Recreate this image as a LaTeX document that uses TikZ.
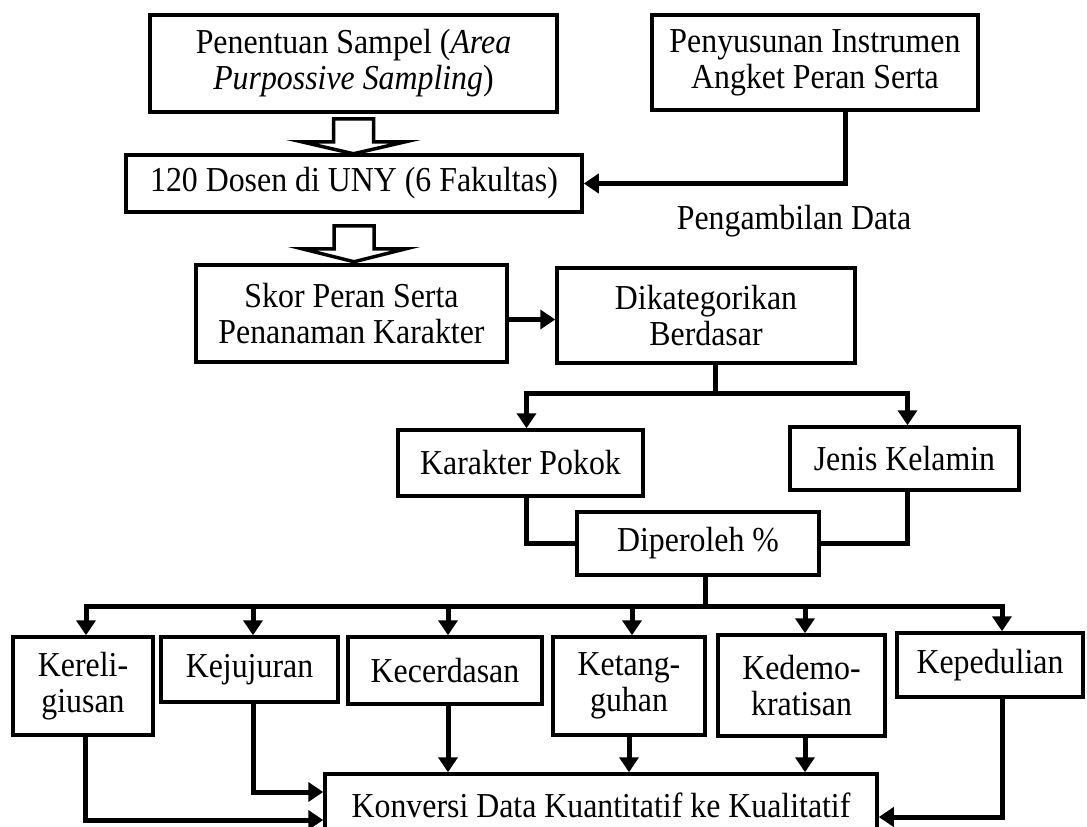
\documentclass[tikz,border=0pt]{standalone}
\usepackage{fontspec}
\setmainfont{Liberation Serif}[FakeStretch=0.91]
\usetikzlibrary{arrows.meta}

\begin{document}
\begin{tikzpicture}[x=1pt, y=-1pt, >={Triangle[width=19pt,length=15pt]},
  box/.style={draw, line width=3.5pt, align=center, inner sep=0pt, font=\fontsize{35}{36}\selectfont},
  lbl/.style={font=\fontsize{35}{36}\selectfont},
  conn/.style={line width=5pt},
  hollow/.style={draw, line width=3.5pt, line join=miter}]
\useasboundingbox (0,0) rectangle (1087,827);
\node[box, minimum width=407pt, minimum height=97pt] (samp) at (353.5,63.5) {Penentuan Sampel (\textit{Area}\\\textit{Purpossive Sampling})};
\node[box, minimum width=326pt, minimum height=95pt] (instr) at (815,62.5) {Penyusunan Instrumen\\Angket Peran Serta};
\node[box, minimum width=456pt, minimum height=57pt] (dosen) at (354,183.5) {120 Dosen di UNY (6 Fakultas)};
\node[lbl] (ambil) at (794,221) {Pengambilan Data};
\node[box, minimum width=311pt, minimum height=97pt] (skor) at (351.5,313.5) {Skor Peran Serta\\Penanaman Karakter};
\node[box, minimum width=298pt, minimum height=95pt] (kat) at (706,315.5) {Dikategorikan\\Berdasar};
\node[box, minimum width=245pt, minimum height=66pt] (pokok) at (520.5,463) {Karakter Pokok};
\node[box, minimum width=229pt, minimum height=63pt] (jenis) at (904.5,458.5) {Jenis Kelamin};
\node[box, minimum width=242pt, minimum height=63pt] (persen) at (698,543.5) {Diperoleh \%};
\node[box, minimum width=140pt, minimum height=98pt] (religi) at (83,686) {Kereli-\\giusan};
\node[box, minimum width=177pt, minimum height=65pt] (jujur) at (249.5,669.5) {Kejujuran};
\node[box, minimum width=194pt, minimum height=67pt] (cerdas) at (445,670.5) {Kecerdasan};
\node[box, minimum width=152pt, minimum height=98pt] (tangguh) at (629,686) {Ketang-\\guhan};
\node[box, minimum width=167pt, minimum height=101pt] (demo) at (801.5,685.5) {Kedemo-\\kratisan};
\node[box, minimum width=186pt, minimum height=64pt] (peduli) at (990,665) {Kepedulian};
\node[box, minimum width=552pt, minimum height=62pt] (konv) at (601,805) {Konversi Data Kuantitatif ke Kualitatif};

% hollow arrows
\draw[hollow] (samp.south) ++(-20,5) -- ++(0,23) -- ++(-32,0) -- ++(52,12) -- ++(52,-12) -- ++(-32,0) -- ++(0,-23) -- cycle;
\draw[hollow] (dosen.south) ++(-20,12) -- ++(0,23) -- ++(-32,0) -- ++(52,13) -- ++(52,-13) -- ++(-32,0) -- ++(0,-23) -- cycle;

\draw[conn,->] ([xshift=30pt]instr.south) |- (dosen.east);
\draw[conn,->] ([yshift=-6pt]skor.east) -- ([yshift=-6pt]skor.east -| kat.west);
\draw[conn,->] ([xshift=9pt]kat.south) -- ++(0,29) -| ([xshift=6pt]pokok.north);
\draw[conn,->] ([xshift=9pt]kat.south) -- ++(0,29) -| ([xshift=3pt]jenis.north);
\draw[conn] ([xshift=6pt]pokok.south) |- (persen.west);
\draw[conn] ([xshift=3pt]jenis.south) |- (persen.east);

% to the six characters
\draw[conn,->] ([xshift=7pt]persen.south) -- ++(0,30) -| ([xshift=3pt]religi.north);
\draw[conn,->] ([xshift=7pt]persen.south) -- ++(0,30) -| ([xshift=3.5pt]jujur.north);
\draw[conn,->] ([xshift=7pt]persen.south) -- ++(0,30) -| ([xshift=3pt]cerdas.north);
\draw[conn,->] ([xshift=7pt]persen.south) -- ++(0,30) -| ([xshift=3pt]tangguh.north);
\draw[conn,->] ([xshift=7pt]persen.south) -- ++(0,30) -| ([xshift=3.5pt]demo.north);
\draw[conn,->] ([xshift=7pt]persen.south) -- ++(0,30) -| ([xshift=12pt]peduli.north);

% into the conversion
\draw[conn,->] ([xshift=2pt]religi.south) |- ([yshift=-15pt]konv.west);
\draw[conn,->] ([xshift=3.5pt]jujur.south) |- ([yshift=13pt]konv.west);
\draw[conn,->] ([xshift=3pt]cerdas.south) -- ([xshift=3pt]cerdas.south |- konv.north);
\draw[conn,->] (tangguh.south) -- (tangguh.south |- konv.north);
\draw[conn,->] ([xshift=3.5pt]demo.south) -- ([xshift=3.5pt]demo.south |- konv.north);
\draw[conn,->] ([xshift=12pt]peduli.south) |- ([yshift=-12pt]konv.east);
\end{tikzpicture}
\end{document}
